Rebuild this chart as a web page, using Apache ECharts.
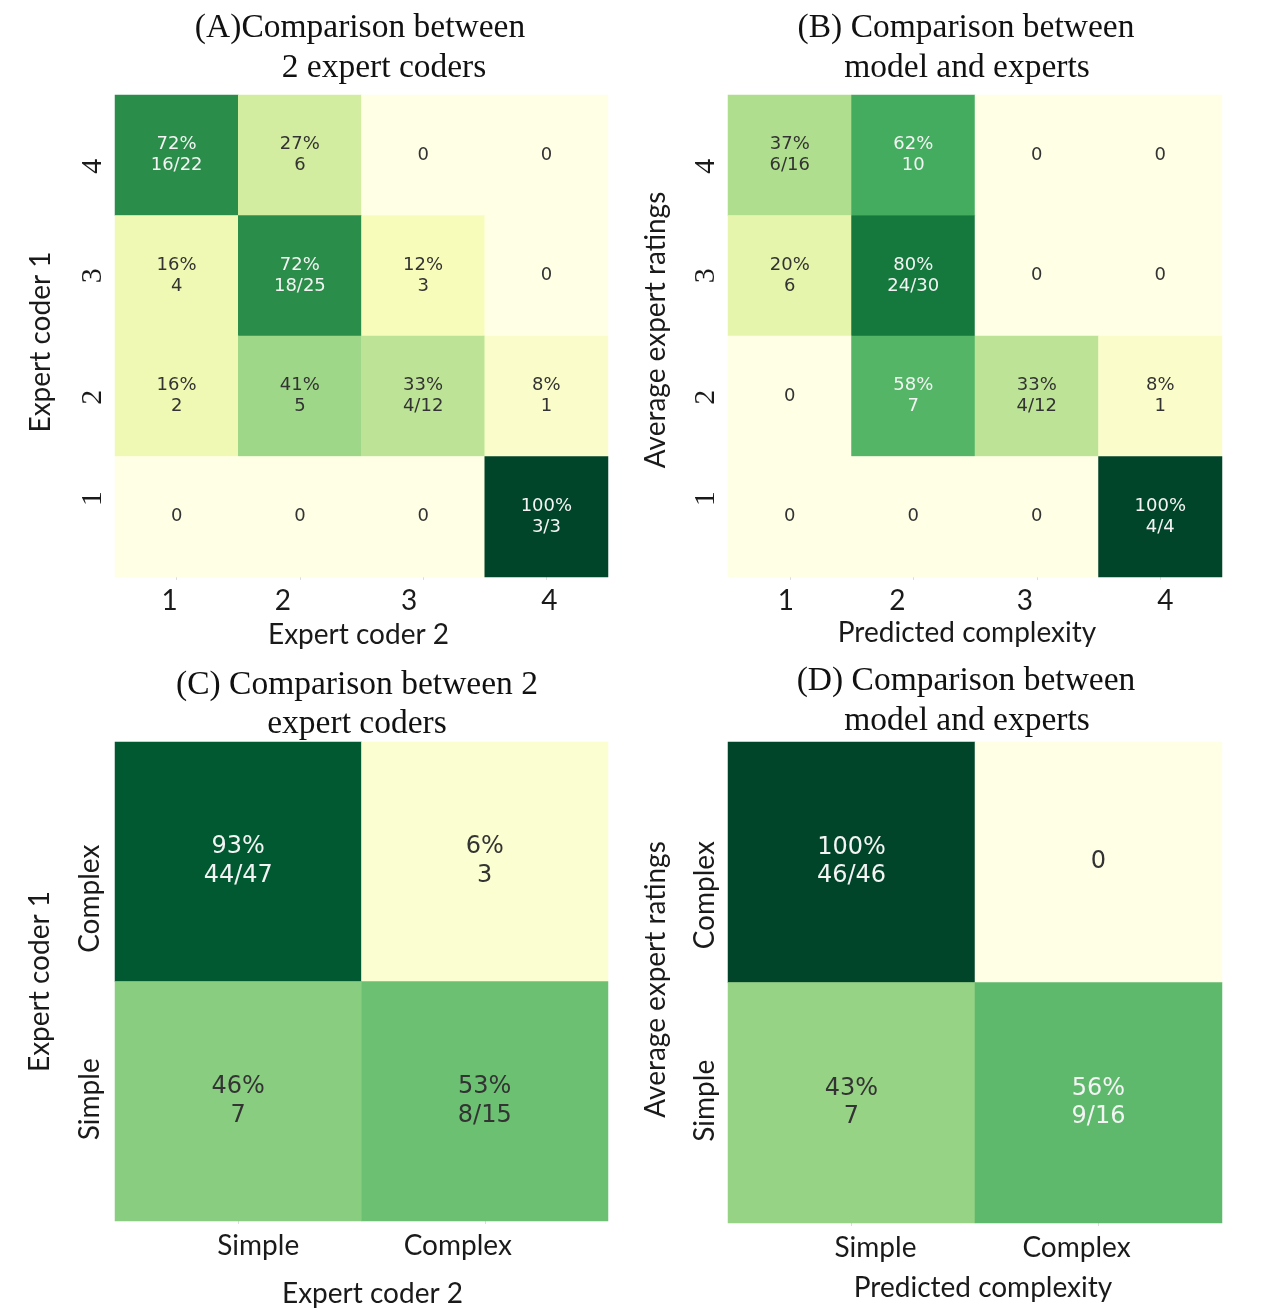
<!DOCTYPE html>
<html>
<head>
<meta charset="utf-8">
<script src="https://cdn.jsdelivr.net/npm/echarts@6/dist/echarts.min.js"></script>
<style>
  html, body { margin: 0; padding: 0; background: #ffffff; }
  #main { width: 1287px; height: 1309px; }
</style>
</head>
<body>
<div id="main"></div>
<script>
// ---- Data -------------------------------------------------------------
// Ordinal rating categories (panels A, B), listed bottom to top
const ratingCats = ['1', '2', '3', '4'];
// Binary categories (panels C, D)
const binaryCats = ['Simple', 'Complex'];

// Row percentages; rows are listed top to bottom (rating 4 first)
const pctA = [[72, 27, 0, 0], [16, 72, 12, 0], [16, 41, 33, 8], [0, 0, 0, 100]];
const cntA = [['16/22', '6', '0', '0'], ['4', '18/25', '3', '0'], ['2', '5', '4/12', '1'], ['0', '0', '0', '3/3']];

const pctB = [[37, 62, 0, 0], [20, 80, 0, 0], [0, 58, 33, 8], [0, 0, 0, 100]];
const cntB = [['6/16', '10', '0', '0'], ['6', '24/30', '0', '0'], ['0', '7', '4/12', '1'], ['0', '0', '0', '4/4']];

// Rows top to bottom: Complex, Simple
const pctC = [[93, 6], [46, 53]];
const cntC = [['44/47', '3'], ['7', '8/15']];

const pctD = [[100, 0], [43, 56]];
const cntD = [['46/46', '0'], ['7', '9/16']];

const panelTitles = [
  ['(A)Comparison between', '2 expert coders'],
  ['(B) Comparison between', 'model and experts'],
  ['(C) Comparison between 2', 'expert coders'],
  ['(D) Comparison between', 'model and experts']
];
const xNames = ['Expert coder 2', 'Predicted complexity', 'Expert coder 2', 'Predicted complexity'];
const yNames = ['Expert coder 1', 'Average expert ratings', 'Expert coder 1', 'Average expert ratings'];

// ---- Styling -----------------------------------------------------------
const YlGn = ['#ffffe5', '#f7fcb9', '#d9f0a3', '#addd8e', '#78c679', '#41ab5d', '#238443', '#006837', '#004529'];
const SANS = 'Lato, "Open Sans", sans-serif';
const SERIF = '"Liberation Serif", "Times New Roman", serif';
const CELL = '"DejaVu Sans", sans-serif';
const DARK = '#333333';
const LIGHT = '#f4f4f4';

// yNameShift: screen offset of the vertical axis name (positive = down)
const panels = [
  { pct: pctA, cnt: cntA, cats: ratingCats, left: 115, top: 95, width: 493, height: 482,
    cellFont: 18, cellLine: 21,
    xShift: [-7, -17, -14, 3], yShift: [18, -1, 0, -11],
    yFont: SERIF, yFontSize: 30, yMargin: 7, xMargin: 10,
    xNameGap: 44, xNameShift: -3, yNameGap: 60, yNameShift: 6, titleY: [28, 68], titleX: [360, 384] },
  { pct: pctB, cnt: cntB, cats: ratingCats, left: 728, top: 95, width: 494, height: 482,
    cellFont: 18, cellLine: 21,
    xShift: [-4, -16, -12, 5], yShift: [18, -1, 0, -11],
    yFont: SERIF, yFontSize: 30, yMargin: 7, xMargin: 10,
    xNameGap: 42, xNameShift: -8, yNameGap: 58, yNameShift: -6, titleY: [28, 68], titleX: [966, 967] },
  { pct: pctC, cnt: cntC, cats: binaryCats, left: 115, top: 742, width: 493, height: 481,
    cellFont: 24, cellLine: 29,
    xShift: [20, -27], yShift: [2, -37],
    yFont: SANS, yFontSize: 28, yMargin: 11, xMargin: 11,
    xNameGap: 59, xNameShift: 11, yNameGap: 61, yNameShift: 0, titleY: [685, 724], titleX: [357, 357] },
  { pct: pctD, cnt: cntD, cats: binaryCats, left: 728, top: 742, width: 494, height: 481,
    cellFont: 24, cellLine: 28,
    xShift: [24, -22], yShift: [2, -33],
    yFont: SANS, yFontSize: 28, yMargin: 9, xMargin: 11,
    xNameGap: 51, xNameShift: 8, yNameGap: 58, yNameShift: -3, titleY: [681, 721], titleX: [966, 967] }
];

// Shift a label along its reading direction by padding one side of its box
function padFor(s) {
  return s >= 0 ? [0, 0, 0, 2 * s] : [0, -2 * s, 0, 0];
}
function shiftedLabels(shifts, font, size) {
  const rich = {};
  shifts.forEach((s, i) => {
    rich['s' + i] = { padding: padFor(s), fontFamily: font, fontSize: size, color: '#1a1a1a' };
  });
  return { formatter: (v, i) => '{s' + i + '|' + v + '}', rich: rich };
}

function buildData(pct, cnt) {
  const n = pct.length;
  const out = [];
  for (let r = 0; r < n; r++) {
    for (let c = 0; c < pct[r].length; c++) {
      const p = pct[r][c];
      out.push({
        value: [c, n - 1 - r, p, cnt[r][c]],
        label: { color: p >= 55 ? LIGHT : DARK }
      });
    }
  }
  return out;
}

const grid = [], xAxis = [], yAxis = [], series = [], graphic = [];

panels.forEach((p, i) => {
  grid.push({ left: p.left, top: p.top, width: p.width, height: p.height, containLabel: false });

  const xl = shiftedLabels(p.xShift, SANS, 28);
  xAxis.push({
    type: 'category', gridIndex: i, data: p.cats,
    axisLine: { show: false },
    axisTick: { show: true, length: 3, alignWithLabel: true, lineStyle: { color: '#dddddd' } },
    axisLabel: { margin: p.xMargin, fontFamily: SANS, fontSize: 28, color: '#1a1a1a',
                 formatter: xl.formatter, rich: xl.rich },
    name: xNames[i], nameLocation: 'middle', nameGap: p.xNameGap,
    nameTextStyle: { fontFamily: SANS, fontSize: 28, color: '#1a1a1a', padding: padFor(p.xNameShift) }
  });

  const yl = shiftedLabels(p.yShift, p.yFont, p.yFontSize);
  yAxis.push({
    type: 'category', gridIndex: i, data: p.cats,
    axisLine: { show: false },
    axisTick: { show: false },
    axisLabel: { rotate: 90, margin: p.yMargin, fontFamily: p.yFont, fontSize: p.yFontSize, color: '#1a1a1a',
                 formatter: yl.formatter, rich: yl.rich },
    name: yNames[i], nameLocation: 'middle', nameRotate: 90, nameGap: p.yNameGap,
    nameTextStyle: { fontFamily: SANS, fontSize: 28, color: '#1a1a1a', padding: padFor(-p.yNameShift) }
  });

  series.push({
    type: 'heatmap', xAxisIndex: i, yAxisIndex: i,
    data: buildData(p.pct, p.cnt),
    itemStyle: { borderWidth: 0 },
    emphasis: { disabled: true },
    label: {
      show: true, fontFamily: CELL, fontSize: p.cellFont, lineHeight: p.cellLine,
      formatter: (d) => d.value[2] === 0 ? '0' : d.value[2] + '%\n' + d.value[3]
    }
  });

  panelTitles[i].forEach((t, k) => {
    graphic.push({
      type: 'text', x: p.titleX[k], y: p.titleY[k],
      style: { text: t, font: '33.5px ' + SERIF, fill: '#111111', align: 'center', verticalAlign: 'middle' }
    });
  });
});

const chart = echarts.init(document.getElementById('main'), null, { renderer: 'canvas' });
chart.setOption({
  backgroundColor: '#ffffff',
  animation: false,
  tooltip: { show: false },
  grid: grid,
  xAxis: xAxis,
  yAxis: yAxis,
  visualMap: {
    show: false, type: 'continuous', min: 0, max: 100, dimension: 2,
    seriesIndex: [0, 1, 2, 3],
    inRange: { color: YlGn }
  },
  series: series,
  graphic: graphic
});
</script>
</body>
</html>
